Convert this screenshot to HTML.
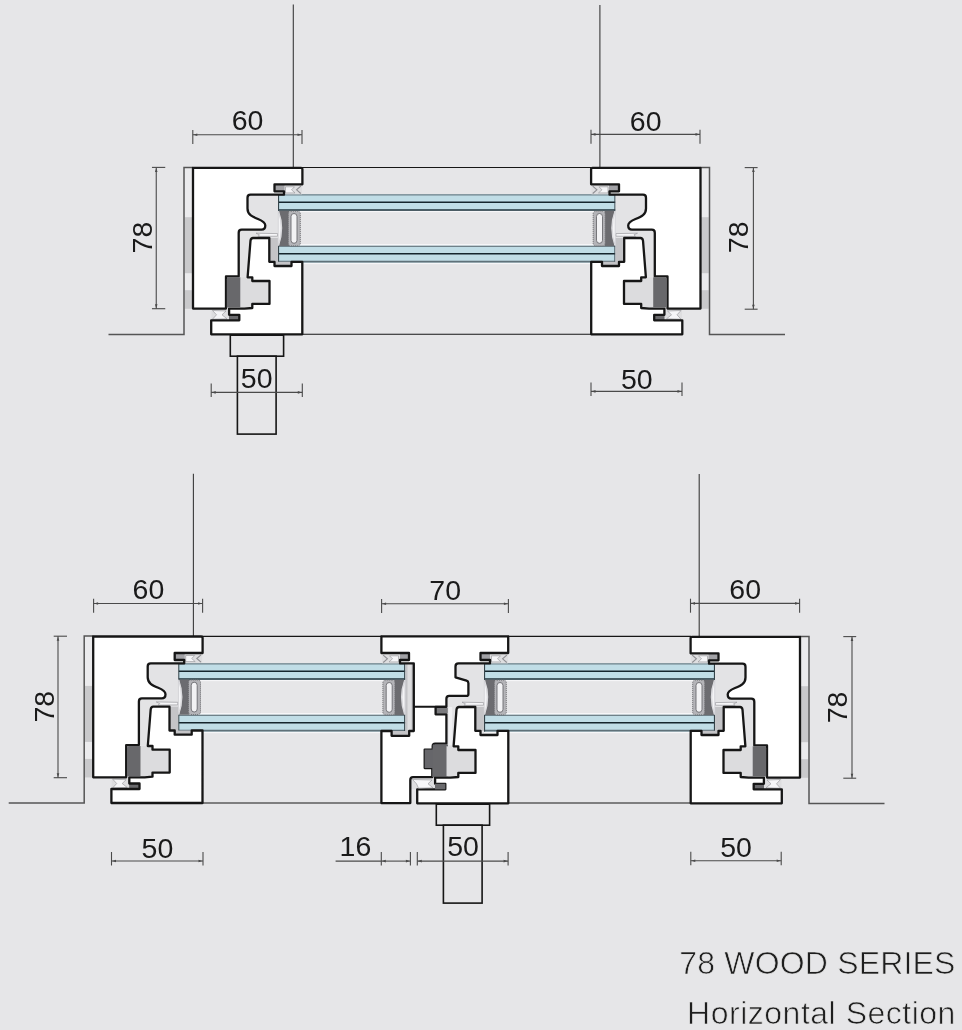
<!DOCTYPE html>
<html><head><meta charset="utf-8"><title>78 Wood Series - Horizontal Section</title>
<style>
html,body{margin:0;padding:0;background:#e6e6e8;}
body{width:962px;height:1030px;overflow:hidden;position:relative;font-family:"Liberation Sans",sans-serif;}
svg{position:absolute;left:0;top:0;display:block;}
.n,.cap{filter:grayscale(1);}
.n{font-family:"Liberation Sans",sans-serif;font-size:28.5px;fill:#1a1a1a;}
.cap{font-family:"Liberation Sans",sans-serif;font-size:32px;fill:#1e1e1e;stroke:#e6e6e8;stroke-width:0.7px;}
</style></head>
<body>
<svg width="962" height="1030" viewBox="0 0 962 1030">
<defs>
<g id="wall">
 <rect x="184.7" y="167.9" width="7.6" height="140.8" fill="#ebebed"/>
 <rect x="184.7" y="217.2" width="7.6" height="56" fill="#c9c9cb"/>
 <rect x="184.7" y="290.2" width="7.6" height="18.6" fill="#c9c9cb"/>
 <polyline points="108.5,334.4 184,334.4 184,167.4 193,167.4" fill="none" stroke="#555" stroke-width="1.5"/>
</g>
<g id="frame">
 <path d="M193,167.8 H301 Q302.4,167.8 302.4,169.2 V184.3 H274.5 V191.3 H284 V194.7 H250.5 Q247.5,194.7 247.5,197.7 V208.5 C247.5,214.5 252,216.5 258,219 C263,221 265.3,222.5 265.3,225.5 C265.3,228.3 264,229.7 261.5,229.7 H241.7 Q238.7,229.7 238.7,232.7 V276.4 H226 V308.6 H193 Z" fill="#fff" stroke="#161616" stroke-width="2.3" stroke-linejoin="round"/>
</g>
<g id="gk">
 <rect x="0" y="0" width="18" height="9" fill="#dedee0"/>
 <path d="M1.5,1.5 H10.5 L7.5,4.5 L11,7.6 H1.5 Z" fill="#f6f6f8" stroke="#909094" stroke-width="0.6"/>
 <path d="M16.8,0.8 L12.6,4.5 L16.8,8.2" fill="none" stroke="#8e8e92" stroke-width="1.1"/>
</g>
<g id="gapL">
 <rect x="239" y="194.7" width="39" height="82" fill="#e3e3e5"/>
 <rect x="269.3" y="238" width="8.6" height="24" fill="#c4c4c7"/>
 <path d="M269.5,261.8 H291.5 V266 H274.5 Z" fill="#c4c4c7"/>
 <use href="#gk" transform="translate(284,185.3)"/>
 <rect x="274.5" y="184.3" width="10" height="7.2" fill="#a2a2a6"/>
 <path d="M256,233.2 L277.6,233.6 L277.6,236.2 L258,236.4 L259.5,234.8 Z" fill="#f6f6f8" stroke="#9a9a9e" stroke-width="0.7"/>
 <path d="M211.5,309.5 H239 V320 H211.5 Z" fill="#dedee0"/>
 <path d="M212.5,310.5 L226,311 L222,314.8 L227,318.8 L212.5,319.2 L216.5,314.8 Z" fill="#f6f6f8" stroke="#909094" stroke-width="0.6"/>
 <rect x="229" y="314.8" width="10.3" height="5.5" fill="#6a6a6d"/>
</g>
<g id="sash">
 <rect x="240.3" y="277.3" width="29.2" height="30.5" fill="#dcdcde"/>
 <path d="M253,238 H269.3 V261.8 H274.5 V266 H291.5 V261.8 H302.3 V334.3 H211.2 V320.3 H239.3 V314.8 H229.1 V308.6 H244.5 L252.3,308 V303.9 H269.5 V281 H252.3 V277.3 H247.6 L250.5,240.6 Q250.9,238 253,238 Z" fill="#fff" stroke="#161616" stroke-width="2.3" stroke-linejoin="round"/>
 <path d="M228.8,277.3 H240.3 V307.6 H226.8 V279.3 Q226.8,277.3 228.8,277.3 Z" fill="#68686b"/>
</g>
<g id="handle">
 <rect x="230.3" y="335.2" width="53.3" height="21" fill="none" stroke="#161616" stroke-width="1.6"/>
 <rect x="237.4" y="356.2" width="38.7" height="77.9" fill="none" stroke="#161616" stroke-width="1.6"/>
</g>
<g id="spacer">
 <path d="M279,210.8 H289 V246 H279 Q285.5,228.4 279,210.8 Z" fill="#6c6c70"/>
 <path d="M278.3,211 Q284.2,228.4 278.3,245.8 Z" fill="#f4f4f6" stroke="#c8c8cc" stroke-width="0.6"/>
 <rect x="288.3" y="211.2" width="12" height="34.6" rx="2.5" fill="#b4b4b8" stroke="#6e6e72" stroke-width="0.9" stroke-dasharray="1.2 0.8"/>
 <rect x="291" y="213.5" width="6" height="29.8" rx="3" fill="#f2f2f4" stroke="#6a6a6e" stroke-width="0.9"/>
</g>
</defs>
<line x1="293.3" x2="293.3" y1="4.5" y2="168" stroke="#3a3a3a" stroke-width="1.1"/>
<line x1="599.9" x2="599.9" y1="5" y2="168" stroke="#3a3a3a" stroke-width="1.1"/>
<line x1="302" x2="591" y1="167.5" y2="167.5" stroke="#161616" stroke-width="1.1"/>
<line x1="302" x2="611" y1="334.3" y2="334.3" stroke="#161616" stroke-width="1.1"/>
<rect x="277.9" y="194.2" width="337.70000000000005" height="16.6" fill="#c0dde6"/>
<rect x="277.9" y="245.6" width="337.70000000000005" height="17" fill="#c0dde6"/>
<line x1="277.9" x2="615.6" y1="194.9" y2="194.9" stroke="#6f8189" stroke-width="1.4"/>
<line x1="277.9" x2="615.6" y1="202.3" y2="202.3" stroke="#15252c" stroke-width="1.6"/>
<line x1="277.9" x2="615.6" y1="210.0" y2="210.0" stroke="#22323a" stroke-width="1.4"/>
<line x1="277.9" x2="615.6" y1="246.4" y2="246.4" stroke="#6f8189" stroke-width="1.4"/>
<line x1="277.9" x2="615.6" y1="253.7" y2="253.7" stroke="#15252c" stroke-width="1.6"/>
<line x1="277.9" x2="615.6" y1="261.6" y2="261.6" stroke="#5f7179" stroke-width="1.6"/>
<line x1="277.9" x2="615.6" y1="211.6" y2="211.6" stroke="#f8f8fa" stroke-width="1"/>
<line x1="277.9" x2="615.6" y1="244.6" y2="244.6" stroke="#f8f8fa" stroke-width="1"/>
<line x1="277.9" x2="615.6" y1="263.6" y2="263.6" stroke="#f8f8fa" stroke-width="1"/>
<line x1="278.5" x2="278.5" y1="194.2" y2="210.8" stroke="#34444a" stroke-width="1.2"/>
<line x1="278.5" x2="278.5" y1="245.6" y2="262.6" stroke="#34444a" stroke-width="1.2"/>
<line x1="615.0" x2="615.0" y1="194.2" y2="210.8" stroke="#34444a" stroke-width="1.2"/>
<line x1="615.0" x2="615.0" y1="245.6" y2="262.6" stroke="#34444a" stroke-width="1.2"/>
<g>
<use href="#wall"/>
<use href="#gapL"/>
<use href="#frame"/>
<use href="#sash"/>
<use href="#spacer"/>
<use href="#handle"/>
</g>
<g transform="matrix(-1,0,0,1,893.5,0)">
<use href="#wall"/>
<use href="#gapL"/>
<use href="#frame"/>
<use href="#sash"/>
<use href="#spacer"/>
</g>
<line x1="192.8" x2="302" y1="134.7" y2="134.7" stroke="#4a4a4a" stroke-width="1.1"/>
<line x1="192.8" x2="192.8" y1="130.0" y2="144.0" stroke="#4a4a4a" stroke-width="1.1"/>
<line x1="302" x2="302" y1="130.0" y2="144.0" stroke="#4a4a4a" stroke-width="1.1"/>
<path d="M193.3,134.7 l4,-1.3 v2.6 z M301.5,134.7 l-4,-1.3 v2.6 z" fill="#4a4a4a"/>
<text x="247.5" y="130" text-anchor="middle" class="n">60</text>
<line x1="591" x2="700" y1="134.4" y2="134.4" stroke="#4a4a4a" stroke-width="1.1"/>
<line x1="591" x2="591" y1="129.70000000000002" y2="143.70000000000002" stroke="#4a4a4a" stroke-width="1.1"/>
<line x1="700" x2="700" y1="129.70000000000002" y2="143.70000000000002" stroke="#4a4a4a" stroke-width="1.1"/>
<path d="M591.5,134.4 l4,-1.3 v2.6 z M699.5,134.4 l-4,-1.3 v2.6 z" fill="#4a4a4a"/>
<text x="645.7" y="130.5" text-anchor="middle" class="n">60</text>
<line x1="211.2" x2="302.3" y1="392.4" y2="392.4" stroke="#4a4a4a" stroke-width="1.1"/>
<line x1="211.2" x2="211.2" y1="383.4" y2="396.9" stroke="#4a4a4a" stroke-width="1.1"/>
<line x1="302.3" x2="302.3" y1="383.4" y2="396.9" stroke="#4a4a4a" stroke-width="1.1"/>
<path d="M211.7,392.4 l4,-1.3 v2.6 z M301.8,392.4 l-4,-1.3 v2.6 z" fill="#4a4a4a"/>
<text x="256.7" y="388" text-anchor="middle" class="n">50</text>
<line x1="591" x2="682" y1="391.4" y2="391.4" stroke="#4a4a4a" stroke-width="1.1"/>
<line x1="591" x2="591" y1="382.4" y2="395.9" stroke="#4a4a4a" stroke-width="1.1"/>
<line x1="682" x2="682" y1="382.4" y2="395.9" stroke="#4a4a4a" stroke-width="1.1"/>
<path d="M591.5,391.4 l4,-1.3 v2.6 z M681.5,391.4 l-4,-1.3 v2.6 z" fill="#4a4a4a"/>
<text x="636.8" y="388.5" text-anchor="middle" class="n">50</text>
<line x1="156.25" x2="156.25" y1="167.4" y2="308.7" stroke="#4a4a4a" stroke-width="1.1"/>
<line x1="151.95" x2="165.25" y1="167.4" y2="167.4" stroke="#4a4a4a" stroke-width="1.1"/>
<line x1="151.95" x2="165.25" y1="308.7" y2="308.7" stroke="#4a4a4a" stroke-width="1.1"/>
<path d="M156.25,167.9 l-1.3,4 h2.6 z M156.25,308.2 l-1.3,-4 h2.6 z" fill="#4a4a4a"/>
<text x="152.3" y="237.6" text-anchor="middle" class="n" transform="rotate(-90 152.3 237.6)">78</text>
<line x1="753.4" x2="753.4" y1="167.6" y2="309.2" stroke="#4a4a4a" stroke-width="1.1"/>
<line x1="744.6999999999999" x2="757.6" y1="167.6" y2="167.6" stroke="#4a4a4a" stroke-width="1.1"/>
<line x1="744.6999999999999" x2="757.6" y1="309.2" y2="309.2" stroke="#4a4a4a" stroke-width="1.1"/>
<path d="M753.4,168.1 l-1.3,4 h2.6 z M753.4,308.7 l-1.3,-4 h2.6 z" fill="#4a4a4a"/>
<text x="748" y="237.3" text-anchor="middle" class="n" transform="rotate(-90 748 237.3)">78</text>
<line x1="193.4" x2="193.4" y1="473.7" y2="636.5" stroke="#3a3a3a" stroke-width="1.1"/>
<line x1="699.2" x2="699.2" y1="474" y2="636.6" stroke="#3a3a3a" stroke-width="1.1"/>
<line x1="202" x2="382" y1="636.4" y2="636.4" stroke="#161616" stroke-width="1.1"/>
<line x1="508" x2="691" y1="636.4" y2="636.4" stroke="#161616" stroke-width="1.1"/>
<line x1="202" x2="382" y1="803" y2="803" stroke="#161616" stroke-width="1.1"/>
<line x1="508" x2="691" y1="803" y2="803" stroke="#161616" stroke-width="1.1"/>
<rect x="178.1" y="663.2" width="227.20000000000002" height="16.6" fill="#c0dde6"/>
<rect x="178.1" y="714.6" width="227.20000000000002" height="17" fill="#c0dde6"/>
<line x1="178.1" x2="405.3" y1="663.9" y2="663.9" stroke="#6f8189" stroke-width="1.4"/>
<line x1="178.1" x2="405.3" y1="671.3" y2="671.3" stroke="#15252c" stroke-width="1.6"/>
<line x1="178.1" x2="405.3" y1="679.0" y2="679.0" stroke="#22323a" stroke-width="1.4"/>
<line x1="178.1" x2="405.3" y1="715.4" y2="715.4" stroke="#6f8189" stroke-width="1.4"/>
<line x1="178.1" x2="405.3" y1="722.7" y2="722.7" stroke="#15252c" stroke-width="1.6"/>
<line x1="178.1" x2="405.3" y1="730.6" y2="730.6" stroke="#5f7179" stroke-width="1.6"/>
<line x1="178.1" x2="405.3" y1="680.6" y2="680.6" stroke="#f8f8fa" stroke-width="1"/>
<line x1="178.1" x2="405.3" y1="713.6" y2="713.6" stroke="#f8f8fa" stroke-width="1"/>
<line x1="178.1" x2="405.3" y1="732.6" y2="732.6" stroke="#f8f8fa" stroke-width="1"/>
<line x1="178.7" x2="178.7" y1="663.2" y2="679.8" stroke="#34444a" stroke-width="1.2"/>
<line x1="178.7" x2="178.7" y1="714.6" y2="731.6" stroke="#34444a" stroke-width="1.2"/>
<line x1="404.7" x2="404.7" y1="663.2" y2="679.8" stroke="#34444a" stroke-width="1.2"/>
<line x1="404.7" x2="404.7" y1="714.6" y2="731.6" stroke="#34444a" stroke-width="1.2"/>
<rect x="483.9" y="663.2" width="231.20000000000005" height="16.6" fill="#c0dde6"/>
<rect x="483.9" y="714.6" width="231.20000000000005" height="17" fill="#c0dde6"/>
<line x1="483.9" x2="715.1" y1="663.9" y2="663.9" stroke="#6f8189" stroke-width="1.4"/>
<line x1="483.9" x2="715.1" y1="671.3" y2="671.3" stroke="#15252c" stroke-width="1.6"/>
<line x1="483.9" x2="715.1" y1="679.0" y2="679.0" stroke="#22323a" stroke-width="1.4"/>
<line x1="483.9" x2="715.1" y1="715.4" y2="715.4" stroke="#6f8189" stroke-width="1.4"/>
<line x1="483.9" x2="715.1" y1="722.7" y2="722.7" stroke="#15252c" stroke-width="1.6"/>
<line x1="483.9" x2="715.1" y1="730.6" y2="730.6" stroke="#5f7179" stroke-width="1.6"/>
<line x1="483.9" x2="715.1" y1="680.6" y2="680.6" stroke="#f8f8fa" stroke-width="1"/>
<line x1="483.9" x2="715.1" y1="713.6" y2="713.6" stroke="#f8f8fa" stroke-width="1"/>
<line x1="483.9" x2="715.1" y1="732.6" y2="732.6" stroke="#f8f8fa" stroke-width="1"/>
<line x1="484.5" x2="484.5" y1="663.2" y2="679.8" stroke="#34444a" stroke-width="1.2"/>
<line x1="484.5" x2="484.5" y1="714.6" y2="731.6" stroke="#34444a" stroke-width="1.2"/>
<line x1="714.5" x2="714.5" y1="663.2" y2="679.8" stroke="#34444a" stroke-width="1.2"/>
<line x1="714.5" x2="714.5" y1="714.6" y2="731.6" stroke="#34444a" stroke-width="1.2"/>
<g transform="translate(-99.8,468.7)">
<use href="#wall"/>
<use href="#gapL"/>
<use href="#frame"/>
<use href="#sash"/>
<use href="#spacer"/>
</g>
<g transform="matrix(-1,0,0,1,993,469)">
<use href="#wall"/>
<use href="#gapL"/>
<use href="#frame"/>
<use href="#sash"/>
<use href="#spacer"/>
</g>
<line x1="93.6" x2="202.6" y1="603.5" y2="603.5" stroke="#4a4a4a" stroke-width="1.1"/>
<line x1="93.6" x2="93.6" y1="598.8" y2="612.8" stroke="#4a4a4a" stroke-width="1.1"/>
<line x1="202.6" x2="202.6" y1="598.8" y2="612.8" stroke="#4a4a4a" stroke-width="1.1"/>
<path d="M94.1,603.5 l4,-1.3 v2.6 z M202.1,603.5 l-4,-1.3 v2.6 z" fill="#4a4a4a"/>
<text x="148.4" y="599.2" text-anchor="middle" class="n">60</text>
<line x1="381.6" x2="508.4" y1="603.8" y2="603.8" stroke="#4a4a4a" stroke-width="1.1"/>
<line x1="381.6" x2="381.6" y1="599.0999999999999" y2="613.0999999999999" stroke="#4a4a4a" stroke-width="1.1"/>
<line x1="508.4" x2="508.4" y1="599.0999999999999" y2="613.0999999999999" stroke="#4a4a4a" stroke-width="1.1"/>
<path d="M382.1,603.8 l4,-1.3 v2.6 z M507.9,603.8 l-4,-1.3 v2.6 z" fill="#4a4a4a"/>
<text x="445.2" y="600" text-anchor="middle" class="n">70</text>
<line x1="690.5" x2="799.6" y1="603.4" y2="603.4" stroke="#4a4a4a" stroke-width="1.1"/>
<line x1="690.5" x2="690.5" y1="598.6999999999999" y2="612.6999999999999" stroke="#4a4a4a" stroke-width="1.1"/>
<line x1="799.6" x2="799.6" y1="598.6999999999999" y2="612.6999999999999" stroke="#4a4a4a" stroke-width="1.1"/>
<path d="M691.0,603.4 l4,-1.3 v2.6 z M799.1,603.4 l-4,-1.3 v2.6 z" fill="#4a4a4a"/>
<text x="745.2" y="599.2" text-anchor="middle" class="n">60</text>
<line x1="111.5" x2="203" y1="861" y2="861" stroke="#4a4a4a" stroke-width="1.1"/>
<line x1="111.5" x2="111.5" y1="852" y2="865.5" stroke="#4a4a4a" stroke-width="1.1"/>
<line x1="203" x2="203" y1="852" y2="865.5" stroke="#4a4a4a" stroke-width="1.1"/>
<path d="M112.0,861 l4,-1.3 v2.6 z M202.5,861 l-4,-1.3 v2.6 z" fill="#4a4a4a"/>
<text x="157.4" y="857.7" text-anchor="middle" class="n">50</text>
<line x1="690.8" x2="781.2" y1="860.8" y2="860.8" stroke="#4a4a4a" stroke-width="1.1"/>
<line x1="690.8" x2="690.8" y1="851.8" y2="865.3" stroke="#4a4a4a" stroke-width="1.1"/>
<line x1="781.2" x2="781.2" y1="851.8" y2="865.3" stroke="#4a4a4a" stroke-width="1.1"/>
<path d="M691.3,860.8 l4,-1.3 v2.6 z M780.7,860.8 l-4,-1.3 v2.6 z" fill="#4a4a4a"/>
<text x="736.1" y="856.5" text-anchor="middle" class="n">50</text>
<line x1="58" x2="58" y1="636.2" y2="777.7" stroke="#4a4a4a" stroke-width="1.1"/>
<line x1="53.7" x2="67" y1="636.2" y2="636.2" stroke="#4a4a4a" stroke-width="1.1"/>
<line x1="53.7" x2="67" y1="777.7" y2="777.7" stroke="#4a4a4a" stroke-width="1.1"/>
<path d="M58,636.7 l-1.3,4 h2.6 z M58,777.2 l-1.3,-4 h2.6 z" fill="#4a4a4a"/>
<text x="53.6" y="706.7" text-anchor="middle" class="n" transform="rotate(-90 53.6 706.7)">78</text>
<line x1="852" x2="852" y1="636.6" y2="778.2" stroke="#4a4a4a" stroke-width="1.1"/>
<line x1="843.3" x2="856.2" y1="636.6" y2="636.6" stroke="#4a4a4a" stroke-width="1.1"/>
<line x1="843.3" x2="856.2" y1="778.2" y2="778.2" stroke="#4a4a4a" stroke-width="1.1"/>
<path d="M852,637.1 l-1.3,4 h2.6 z M852,777.7 l-1.3,-4 h2.6 z" fill="#4a4a4a"/>
<text x="847.2" y="707.4" text-anchor="middle" class="n" transform="rotate(-90 847.2 707.4)">78</text>
<g>
<rect x="446" y="663.4" width="38" height="82" fill="#e3e3e5"/>
<rect x="405.3" y="663.4" width="8.6" height="67.6" fill="#c4c4c7"/>
<rect x="407.5" y="664" width="4" height="66" fill="#dedee0"/>
<path d="M391.6,731 H409.2 V735.8 H391.6 Z" fill="#c4c4c7"/>
<use href="#gk" transform="matrix(-1,0,0,1,400,654.3)"/>
<use href="#gk" transform="translate(490,654.3)"/>
<rect x="400" y="653.3" width="9.5" height="7" fill="#a2a2a6"/>
<rect x="480.5" y="653.3" width="9.5" height="7" fill="#a2a2a6"/>
<rect x="475.3" y="707" width="8.6" height="24" fill="#c4c4c7"/>
<path d="M462,702.2 L483.6,702.6 L483.6,705.2 L464,705.4 L465.5,703.8 Z" fill="#f6f6f8" stroke="#9a9a9e" stroke-width="0.7"/>
<rect x="448.6" y="707" width="3.6" height="38" fill="#f0f0f2"/>
<rect x="435.6" y="707.8" width="12.2" height="5.5" fill="#7a7a7d"/>
<rect x="411" y="778.5" width="33" height="10.5" fill="#dedee0"/>
<path d="M381.4,636.4 H508.2 V653 H480.5 V660 H490 V663.4 H458.5 Q455.5,663.4 455.5,666.4 V677.3 L466.5,680.6 Q468.4,681.2 468.4,683.2 V693.9 Q468.4,695.9 466.4,695.9 H449.2 Q446.4,695.9 446.4,698.7 V706.8 H435.6 V714.3 H446.4 V743.7 H435.2 Q432.7,743.7 432.7,746.2 V749.6 H424.7 V768.1 H432.3 V777.2 H413 Q410.3,777.2 410.3,779.9 V803.1 H381.4 V731 H391.6 V735.8 H409.2 V731 H413.8 V663.4 H400 V660 H409 V653 H381.4 Z" fill="#fff" stroke="#161616" stroke-width="2.3" stroke-linejoin="round"/>
<line x1="413.8" x2="446.4" y1="706.8" y2="706.8" stroke="#161616" stroke-width="2.0"/>
<path d="M432.7,744.5 H448 V776.9 H432.3 V768.1 H424.7 V749.6 H432.7 Z" fill="#66666a"/>
</g>
<g transform="translate(206,469)"><use href="#sash"/><use href="#handle"/><use href="#spacer"/><rect x="229" y="314.8" width="10.3" height="5.5" fill="#6a6a6d"/><path d="M206.5,310.5 L226,311 L222,314.8 L227,318.8 L212.5,319.2 L210.5,314.8 Z" fill="#f6f6f8" stroke="#909094" stroke-width="0.6"/></g>
<g transform="matrix(-1,0,0,1,683.2,469)"><use href="#spacer"/></g>
<line x1="381.3" x2="410.4" y1="861.1" y2="861.1" stroke="#4a4a4a" stroke-width="1.1"/>
<line x1="381.3" x2="381.3" y1="852.1" y2="865.6" stroke="#4a4a4a" stroke-width="1.1"/>
<line x1="410.4" x2="410.4" y1="852.1" y2="865.6" stroke="#4a4a4a" stroke-width="1.1"/>
<path d="M381.8,861.1 l4,-1.3 v2.6 z M409.9,861.1 l-4,-1.3 v2.6 z" fill="#4a4a4a"/>
<line x1="335.6" x2="381.3" y1="861.1" y2="861.1" stroke="#4a4a4a" stroke-width="1.1"/>
<text x="355.4" y="855.9" text-anchor="middle" class="n">16</text>
<line x1="417.3" x2="508.1" y1="861.1" y2="861.1" stroke="#4a4a4a" stroke-width="1.1"/>
<line x1="417.3" x2="417.3" y1="852.1" y2="865.6" stroke="#4a4a4a" stroke-width="1.1"/>
<line x1="508.1" x2="508.1" y1="852.1" y2="865.6" stroke="#4a4a4a" stroke-width="1.1"/>
<path d="M417.8,861.1 l4,-1.3 v2.6 z M507.6,861.1 l-4,-1.3 v2.6 z" fill="#4a4a4a"/>
<text x="463" y="855.9" text-anchor="middle" class="n">50</text>
<text x="955.4" y="973.6" text-anchor="end" class="cap" textLength="276.1" lengthAdjust="spacing">78 WOOD SERIES</text>
<text x="955.4" y="1023.6" text-anchor="end" class="cap" textLength="268.3" lengthAdjust="spacing">Horizontal Section</text>
</svg>

</body></html>
